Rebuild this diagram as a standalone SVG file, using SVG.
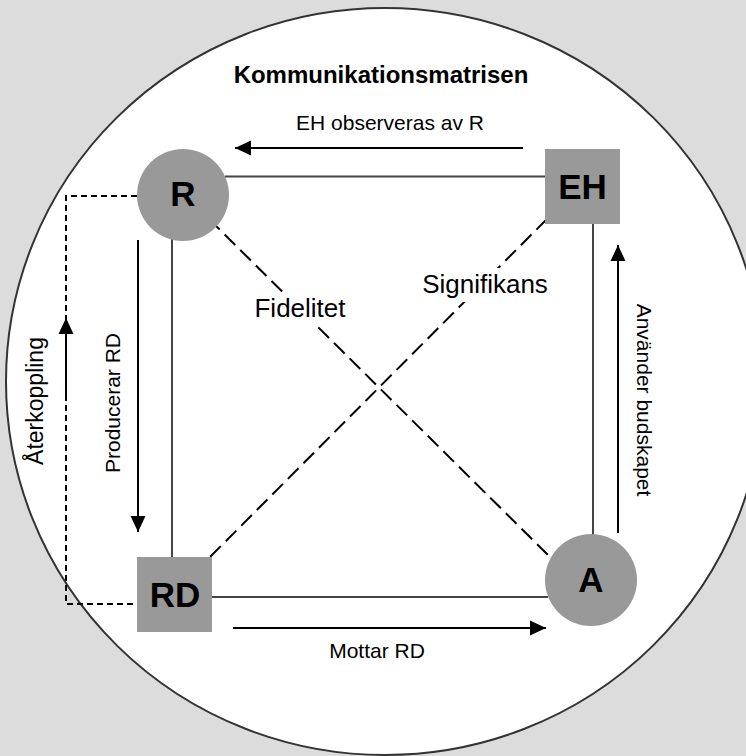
<svg xmlns="http://www.w3.org/2000/svg" width="746" height="756" viewBox="0 0 746 756">
<defs>
<marker id="ah" markerWidth="16" markerHeight="16" viewBox="0 0 16 16" refX="16" refY="8" orient="auto" markerUnits="userSpaceOnUse">
<path d="M0,0.5 L16,8 L0,15.5 Z" fill="#000"/>
</marker>
<style>
text{font-family:"Liberation Sans",Arial,sans-serif;fill:#000}
.lbl{font-size:21px}
.big{font-size:26px}
.node{font-size:35px;font-weight:bold;text-anchor:middle}
.shape{fill:#999999;stroke:none}
.solid{stroke:#444;stroke-width:2;fill:none}
.diag{stroke:#000;stroke-width:2;stroke-dasharray:15 7;fill:none}
.fb{stroke:#000;stroke-width:2;stroke-dasharray:6 4;fill:none}
.arr{stroke:#000;stroke-width:2;fill:none;marker-end:url(#ah)}
.bg{fill:#fff}
</style>
</defs>
<rect x="0" y="0" width="746" height="756" fill="#dcdcdc"/>
<ellipse cx="385" cy="381.5" rx="379" ry="373.5" fill="#fff" stroke="#333" stroke-width="2"/>
<text x="381" y="83" font-size="24" font-weight="bold" text-anchor="middle">Kommunikationsmatrisen</text>
<g id="connectors">
<line class="solid" x1="225" y1="176.5" x2="545" y2="176.5"/>
<line class="solid" x1="593" y1="224" x2="593" y2="536"/>
<line class="solid" x1="172" y1="238" x2="172" y2="557"/>
<line class="solid" x1="212" y1="597" x2="548" y2="597"/>
<line class="diag" x1="209" y1="219" x2="550" y2="557"/>
<line class="diag" x1="547" y1="219" x2="210" y2="557"/>
<polyline class="fb" points="137,196 66,196 66,604 137,604"/>
<line class="arr" x1="66" y1="400" x2="66" y2="318"/>
<line class="arr" x1="523" y1="148" x2="235" y2="148"/>
<line class="arr" x1="138" y1="240" x2="138" y2="532"/>
<line class="arr" x1="233" y1="628" x2="546" y2="628"/>
<line class="arr" x1="618" y1="533" x2="618" y2="245"/>
</g>
<text class="lbl" x="390" y="130" text-anchor="middle">EH observeras av R</text>
<text class="lbl" x="377" y="658" text-anchor="middle">Mottar RD</text>
<rect class="bg" x="250" y="293" width="100" height="34"/>
<text class="big" x="300" y="317" text-anchor="middle">Fidelitet</text>
<rect class="bg" x="418" y="268" width="134" height="34"/>
<text class="big" x="485" y="293" text-anchor="middle">Signifikans</text>
<text font-size="23" transform="translate(43,401) rotate(-90)" text-anchor="middle">Återkoppling</text>
<text class="lbl" transform="translate(120,403) rotate(-90)" text-anchor="middle">Producerar RD</text>
<text class="lbl" transform="translate(637,400) rotate(90)" text-anchor="middle">Använder budskapet</text>
<g id="node-R">
<circle class="shape" cx="183" cy="195" r="46"/>
<text class="node" x="183" y="206">R</text>
</g>
<g id="node-EH">
<rect class="shape" x="545" y="149" width="75" height="75"/>
<text class="node" x="582.5" y="199">EH</text>
</g>
<g id="node-RD">
<rect class="shape" x="137" y="557" width="75" height="75"/>
<text class="node" x="175" y="607">RD</text>
</g>
<g id="node-A">
<circle class="shape" cx="591" cy="580" r="46"/>
<text class="node" x="591" y="592">A</text>
</g>
</svg>
